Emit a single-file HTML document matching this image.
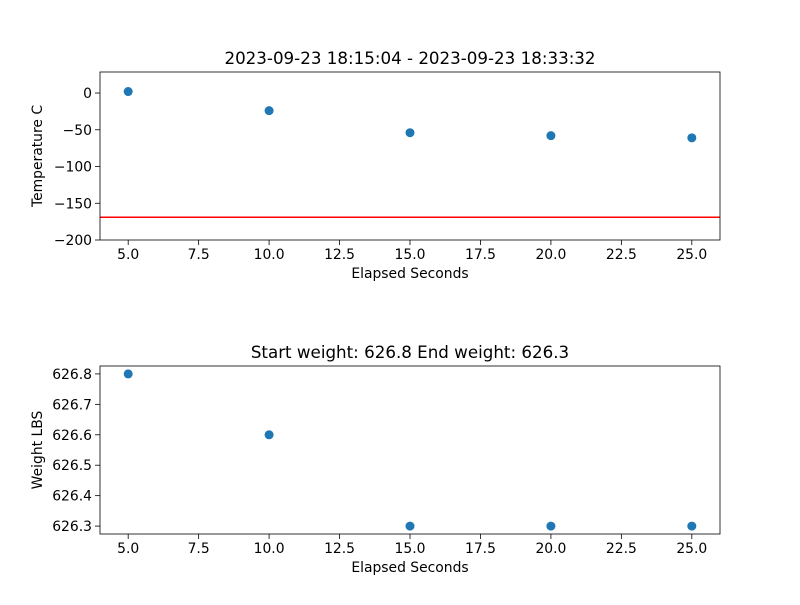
<!DOCTYPE html>
<html><head><meta charset="utf-8"><style>
body{margin:0;background:#fff}
svg text{font-family:"DejaVu Sans","Liberation Sans",sans-serif;fill:#000}
</style></head><body>
<svg id="chart" width="800" height="600" xmlns="http://www.w3.org/2000/svg"></svg>
<script>
const xValues = [5, 10, 15, 20, 25];
const tempValues = [2, -24, -54, -58, -61];
const weightValues = [626.8, 626.6, 626.3, 626.3, 626.3];
const thresholdTemp = -169;
const xTicks = [5.0, 7.5, 10.0, 12.5, 15.0, 17.5, 20.0, 22.5, 25.0];
const tempTicks = [0, -50, -100, -150, -200];
const weightTicks = [626.3, 626.4, 626.5, 626.6, 626.7, 626.8];
const topTitle = "2023-09-23 18:15:04 - 2023-09-23 18:33:32";
const bottomTitle = "Start weight: 626.8 End weight: 626.3";

const svg = document.getElementById('chart');
const NS = 'http://www.w3.org/2000/svg';
function mk(tag, attrs, parent){const e=document.createElementNS(NS,tag);for(const k in attrs)e.setAttribute(k,attrs[k]);(parent||svg).appendChild(e);return e;}

function panel(opts){
  const {top,bottom,left,right,ymin,ymax,yTicks,yFmt,vals,title,ylabel,name}=opts;
  const g=mk('g',{});
  
  
  const xs=v=>left+(v-4)/(26-4)*(right-left);
  const ys=v=>bottom-(v-ymin)/(ymax-ymin)*(bottom-top);
  xTicks.forEach(t=>{
    const x=xs(t);
    mk('line',{x1:x,x2:x,y1:bottom,y2:bottom+5,stroke:'#000','stroke-width':0.8},g);
    const tx=mk('text',{x:x,y:bottom+19,'text-anchor':'middle','font-size':13.9},g);
    tx.textContent=t.toFixed(1);
    
    
  });
  yTicks.forEach(t=>{
    const y=ys(t);
    mk('line',{x1:left-5,x2:left,y1:y,y2:y,stroke:'#000','stroke-width':0.8},g);
    const tx=mk('text',{x:left-8,y:y+5,'text-anchor':'end','font-size':13.9},g);
    tx.textContent=yFmt(t);
    
    
  });
  if(opts.hline!==undefined){
    const l=mk('line',{x1:left,x2:right,y1:ys(opts.hline),y2:ys(opts.hline),stroke:'#ff0000','stroke-width':1.5},g);
    
    
  }
  vals.forEach((v,i)=>{
    const c=mk('circle',{cx:xs(xValues[i]),cy:ys(v),r:4.5,fill:'#1f77b4'},g);
    
    
  });
  mk('rect',{x:left,y:top,width:right-left,height:bottom-top,fill:'none',stroke:'#000','stroke-width':0.8},g);
  const ti=mk('text',{x:(left+right)/2,y:top-8,'text-anchor':'middle','font-size':16.7},g);
  ti.textContent=title;
  
  
  const xl=mk('text',{x:(left+right)/2,y:bottom+38,'text-anchor':'middle','font-size':13.9},g);
  xl.textContent='Elapsed Seconds';
  
  
  const cy=(top+bottom)/2;
  const yl=mk('text',{x:42,y:cy,'text-anchor':'middle','font-size':13.9,transform:`rotate(-90 42 ${cy})`},g);
  yl.textContent=ylabel;
  
  
}
panel({top:72,bottom:240,left:100,right:720,ymin:-200,ymax:28.6,yTicks:tempTicks,yFmt:t=>t<0?'\u2212'+Math.abs(t):String(t),vals:tempValues,title:topTitle,ylabel:'Temperature C',name:'temperature-panel',hline:thresholdTemp});
panel({top:366,bottom:534,left:100,right:720,ymin:626.274,ymax:626.826,yTicks:weightTicks,yFmt:t=>t.toFixed(1),vals:weightValues,title:bottomTitle,ylabel:'Weight LBS',name:'weight-panel'});
</script>
</body></html>
